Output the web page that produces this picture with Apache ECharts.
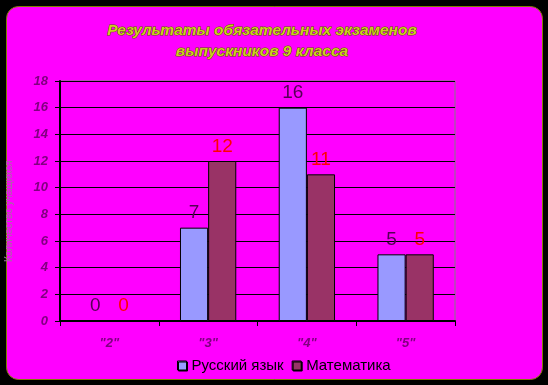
<!DOCTYPE html>
<html><head><meta charset="utf-8">
<script src="https://cdn.jsdelivr.net/npm/echarts@6/dist/echarts.min.js"></script>
<style>html,body{margin:0;padding:0;background:#000;}#c{width:548px;height:385px;}</style>
</head><body><div id="c"></div>
<script>
const categories = ['"2"', '"3"', '"4"', '"5"'];
const russian = [0, 7, 16, 5];
const math = [0, 12, 11, 5];
const seriesNames = ['Русский язык', 'Математика'];
const seriesColors = ['#9999ff', '#993366'];
const titleLines = ['Результаты обязательных экзаменов', 'выпускников 9 класса'];
const yAxisName = 'Количество учащихся';

const chart = echarts.init(document.getElementById('c'));
const labelBase = {show: true, position: 'top', fontFamily: 'Arial, Liberation Sans', fontSize: 19, distance: 5};
chart.setOption({
  backgroundColor: '#000',
  animation: false,
  graphic: [
    {type: 'rect', shape: {x: 6.5, y: 6.5, width: 536, height: 373, r: 12}, style: {fill: '#ff00ff', stroke: '#808000', lineWidth: 1}, z: -10},
    {type: 'text', x: 4, y: 262, rotation: Math.PI/2, style: {text: yAxisName, fill: '#a070a0', font: '10px Arial'}, z: 5}
  ],
  title: {
    text: titleLines.join('\n'), left: 257, textAlign: 'center', top: 15,
    textStyle: {color: '#cccc22', fontFamily: 'Arial, Liberation Sans', fontSize: 15.5, fontWeight: 'bold', fontStyle: 'italic', lineHeight: 21,
      textBorderColor: '#5a5a00', textBorderWidth: 1}
  },
  legend: {
    bottom: 7, left: 172, itemWidth: 9, itemHeight: 9, itemGap: 8,
    textStyle: {color: '#000', fontFamily: 'Arial, Liberation Sans', fontSize: 15},
    data: seriesNames.map((n, i) => ({name: n, icon: 'rect', itemStyle: {color: seriesColors[i], borderColor: '#000', borderWidth: 1, shadowColor: '#000', shadowOffsetX: 1, shadowOffsetY: 1}}))
  },
  grid: {left: 60, top: 81, width: 395, height: 240, show: true, borderColor: '#808080', borderWidth: 1, backgroundColor: 'transparent'},
  xAxis: {
    type: 'category', data: categories,
    axisLine: {lineStyle: {color: '#000', width: 2}},
    axisTick: {show: true, length: 5, lineStyle: {color: '#000', width: 1}},
    axisLabel: {color: '#800080', fontFamily: 'Arial, Liberation Sans', fontSize: 13, fontWeight: 'bold', fontStyle: 'italic', margin: 16,
      textShadowColor: '#fff', textShadowOffsetX: 1, textShadowOffsetY: 1}
  },
  yAxis: {
    type: 'value', min: 0, max: 18, interval: 2,
    axisLine: {show: true, lineStyle: {color: '#000', width: 2}},
    axisTick: {show: true, length: 5, inside: false, lineStyle: {color: '#000'}},
    splitLine: {lineStyle: {color: '#000', width: 1}},
    axisLabel: {color: '#800080', fontFamily: 'Arial, Liberation Sans', fontSize: 13, fontWeight: 'bold', fontStyle: 'italic', margin: 12,
      textShadowColor: '#fff', textShadowOffsetX: 1, textShadowOffsetY: 1}
  },
  series: [
    {name: seriesNames[0], type: 'bar', data: russian, barGap: '0%', barCategoryGap: '43%',
      itemStyle: {color: seriesColors[0], borderColor: '#000', borderWidth: 1},
      label: Object.assign({}, labelBase, {color: '#550055'})},
    {name: seriesNames[1], type: 'bar', data: math, barGap: '0%', barCategoryGap: '43%',
      itemStyle: {color: seriesColors[1], borderColor: '#000', borderWidth: 1},
      label: Object.assign({}, labelBase, {color: '#ff0000'})}
  ]
});
</script></body></html>
